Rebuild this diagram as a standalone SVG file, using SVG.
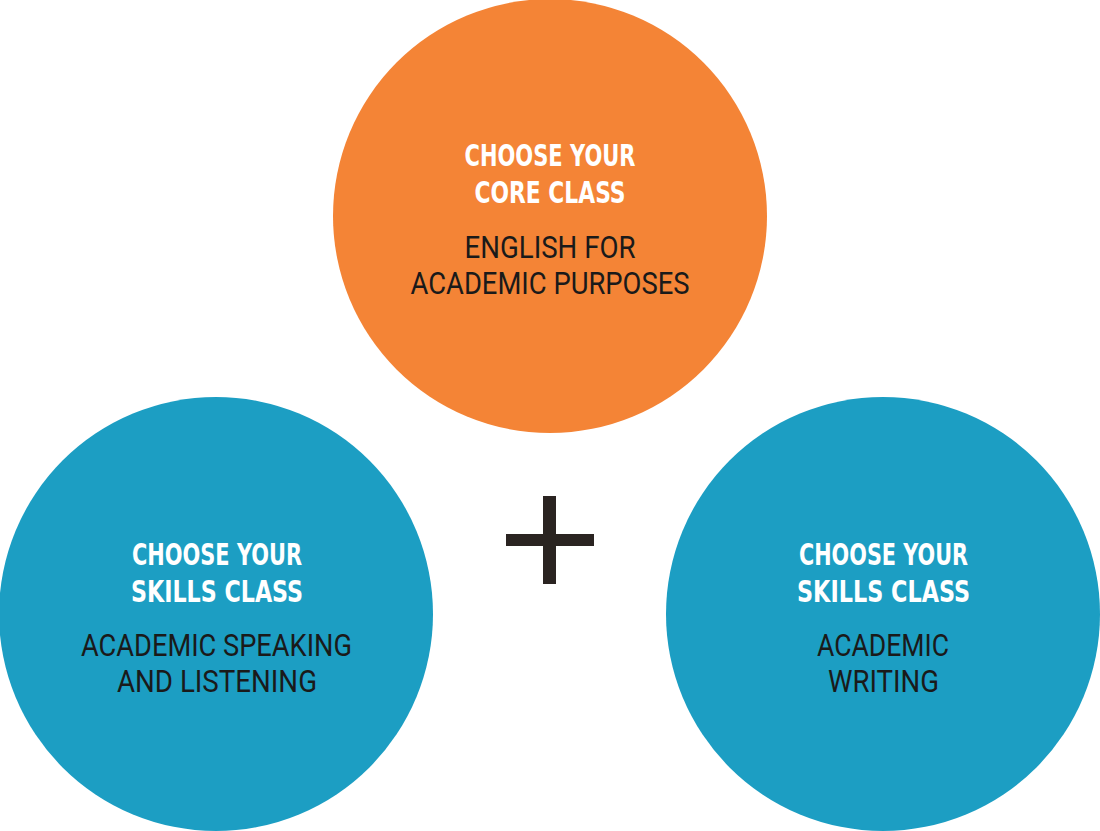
<svg xmlns="http://www.w3.org/2000/svg" width="1100" height="831" viewBox="0 0 1100 831">
<style>
.h{font-family:"DejaVu Sans Condensed","Roboto",sans-serif;font-weight:700;font-size:30px;fill:#ffffff;text-anchor:middle}
.b{font-family:"Roboto","Liberation Sans",sans-serif;font-weight:400;font-size:31px;fill:#1a1a1a;text-anchor:middle}
</style>
<rect width="1100" height="831" fill="#ffffff"/>
<g id="core">
<circle cx="550" cy="216" r="217" fill="#f48436"/>
<text class="h" x="550" y="166" textLength="171" lengthAdjust="spacingAndGlyphs">CHOOSE YOUR</text>
<text class="h" x="550" y="203" textLength="151" lengthAdjust="spacingAndGlyphs">CORE CLASS</text>
<text class="b" x="550" y="258" textLength="171" lengthAdjust="spacingAndGlyphs">ENGLISH FOR</text>
<text class="b" x="550" y="294" textLength="279" lengthAdjust="spacingAndGlyphs">ACADEMIC PURPOSES</text>
</g>
<g id="skills-left">
<circle cx="216" cy="614" r="217" fill="#1c9ec3"/>
<text class="h" x="217" y="565" textLength="170" lengthAdjust="spacingAndGlyphs">CHOOSE YOUR</text>
<text class="h" x="217" y="602" textLength="172" lengthAdjust="spacingAndGlyphs">SKILLS CLASS</text>
<text class="b" x="216.500" y="656" textLength="271" lengthAdjust="spacingAndGlyphs">ACADEMIC SPEAKING</text>
<text class="b" x="217" y="692" textLength="200" lengthAdjust="spacingAndGlyphs">AND LISTENING</text>
</g>
<g id="skills-right">
<circle cx="883" cy="614" r="217" fill="#1c9ec3"/>
<text class="h" x="883.500" y="565" textLength="169" lengthAdjust="spacingAndGlyphs">CHOOSE YOUR</text>
<text class="h" x="883.500" y="602" textLength="173" lengthAdjust="spacingAndGlyphs">SKILLS CLASS</text>
<text class="b" x="883" y="656" textLength="132" lengthAdjust="spacingAndGlyphs">ACADEMIC</text>
<text class="b" x="883.500" y="692" textLength="111" lengthAdjust="spacingAndGlyphs">WRITING</text>
</g>
<g id="connectors">
<g id="plus" fill="#2a2421">
<rect x="506" y="534" width="88" height="12"/>
<rect x="543" y="496" width="13" height="88"/>
</g>
</g>
</svg>
